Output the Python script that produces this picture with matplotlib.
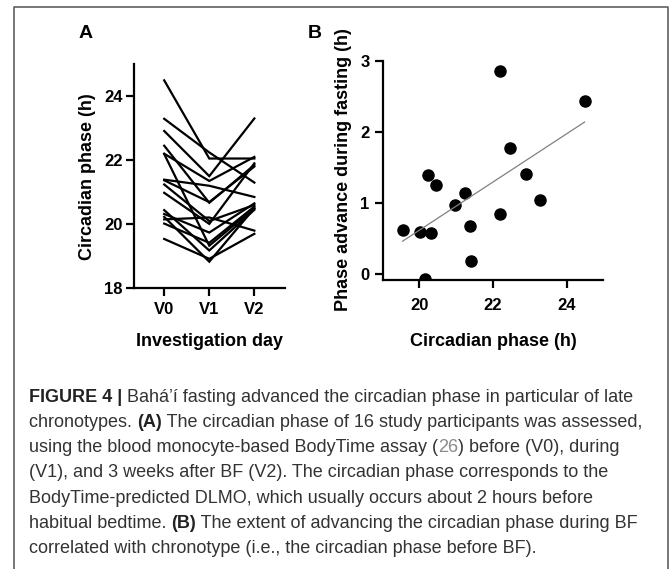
import numpy as np
import matplotlib
matplotlib.use("Agg")
import matplotlib.pyplot as plt
from matplotlib.lines import Line2D

# panel A: circadian phase per participant at each investigation day
days = ["V0", "V1", "V2"]
v0 = [24.49, 23.29, 22.91, 22.20, 21.39, 22.45, 21.37, 20.98,
      21.24, 20.15, 22.19, 20.32, 20.02, 20.44, 19.54, 20.23]
v1 = [22.05, 22.24, 21.50, 21.35, 21.20, 20.67, 20.69, 20.01,
      20.10, 20.21, 19.33, 19.74, 19.42, 19.18, 18.92, 18.83]
v2 = [22.05, 21.30, 23.30, 22.10, 20.85, 21.85, 21.80, 21.90,
      20.60, 19.80, 20.50, 20.65, 20.55, 20.45, 19.70, 20.50]

# panel B: phase at V0 vs phase advance during fasting
b_phase = [19.54, 20.02, 20.32, 20.23, 20.44, 20.98, 21.24, 21.37,
           21.39, 20.15, 22.19, 22.20, 22.45, 22.91, 23.29, 24.49]
b_advance = [0.62, 0.60, 0.58, 1.40, 1.26, 0.97, 1.14, 0.68,
             0.19, -0.06, 2.86, 0.85, 1.78, 1.41, 1.05, 2.44]

W, H = 672, 569
fig = plt.figure(figsize=(W / 100, H / 100), dpi=100)


def fx(px):
    return px / W


def fy(py):
    return 1 - py / H


lab_font = dict(family="Liberation Sans", weight="bold")


def style_axes(ax, xpad, ypad):
    for s in ["top", "right"]:
        ax.spines[s].set_visible(False)
    for s in ["left", "bottom"]:
        ax.spines[s].set_linewidth(1.6)
    ax.tick_params(width=1.6, length=6, labelsize=12, colors="black")
    ax.tick_params(axis="x", pad=xpad)
    ax.tick_params(axis="y", pad=ypad)
    for t in ax.get_xticklabels() + ax.get_yticklabels():
        t.set_fontfamily("Liberation Sans")
        t.set_fontweight("bold")


# panel A
axA = fig.add_axes([fx(134), fy(288.3), fx(285) - fx(134), fy(64) - fy(288.3)])
for a, b, c in zip(v0, v1, v2):
    axA.plot([0, 1, 2], [a, b, c], color="black", lw=1.6, solid_joinstyle="miter")
axA.set_xlim(-0.67, 2.68)
axA.set_ylim(18, 25)
axA.set_xticks([0, 1, 2])
axA.set_xticklabels(days)
axA.set_yticks([18, 20, 22, 24])
style_axes(axA, 4, 2)

# panel B
axB = fig.add_axes([fx(382.7), fy(280), fx(603.3) - fx(382.7), fy(60.7) - fy(280)])
axB.plot(b_phase, b_advance, "o", color="black", ms=8, mec="black")
k, d = np.polyfit(b_phase, b_advance, 1)
xl = np.array([min(b_phase), max(b_phase)])
axB.plot(xl, k * xl + d, color="#808080", lw=0.9)
axB.set_xlim(19, 25)
axB.set_ylim(-0.08, 3)
axB.set_xticks([20, 22, 24])
axB.set_yticks([0, 1, 2, 3])
style_axes(axB, 7, 3.5)

# labels
fig.text(fx(86), fy(34), "A", ha="center", va="center", fontsize=14, **lab_font)
fig.text(fx(315), fy(34), "B", ha="center", va="center", fontsize=14, **lab_font)
fig.text(fx(87), fy(177), "Circadian phase (h)", rotation=90, ha="center", va="center",
         fontsize=13, family="Liberation Sans", weight="semibold")
fig.text(fx(343), fy(170), "Phase advance during fasting (h)", rotation=90, ha="center",
         va="center", fontsize=13, **lab_font)
fig.text(fx(209), fy(342), "Investigation day", ha="center", va="center", fontsize=13, **lab_font)
fig.text(fx(493), fy(342), "Circadian phase (h)", ha="center", va="center", fontsize=13, **lab_font)

# frame around the figure
fig.add_artist(Line2D([fx(14), fx(14), fx(667.7), fx(667.7)],
                      [fy(575), fy(6.5), fy(6.5), fy(575)],
                      color="#606060", lw=1.2))

# caption
caption = [
    [("FIGURE 4 | ", "bold", "#222222"),
     ("Bahá\u2019í fasting advanced the circadian phase in particular of late", "normal", "#333333")],
    [("chronotypes. ", "normal", "#333333"), ("(A)", "bold", "#222222"),
     (" The circadian phase of 16 study participants was assessed,", "normal", "#333333")],
    [("using the blood monocyte-based BodyTime assay (", "normal", "#333333"),
     ("26", "normal", "#8a8a8a"), (") before (V0), during", "normal", "#333333")],
    [("(V1), and 3 weeks after BF (V2). The circadian phase corresponds to the", "normal", "#333333")],
    [("BodyTime-predicted DLMO, which usually occurs about 2 hours before", "normal", "#333333")],
    [("habitual bedtime. ", "normal", "#333333"), ("(B)", "bold", "#222222"),
     (" The extent of advancing the circadian phase during BF", "normal", "#333333")],
    [("correlated with chronotype (i.e., the circadian phase before BF).", "normal", "#333333")],
]
renderer = fig.canvas.get_renderer()
for i, parts in enumerate(caption):
    x = 29
    y = 397 + 25.3 * i
    for txt, wt, col in parts:
        t = fig.text(fx(x), fy(y), txt, ha="left", va="center", fontsize=12.95,
                     family="Liberation Sans", weight=wt, color=col)
        bb = t.get_window_extent(renderer)
        x += bb.width

fig.savefig("out.png", dpi=100)
